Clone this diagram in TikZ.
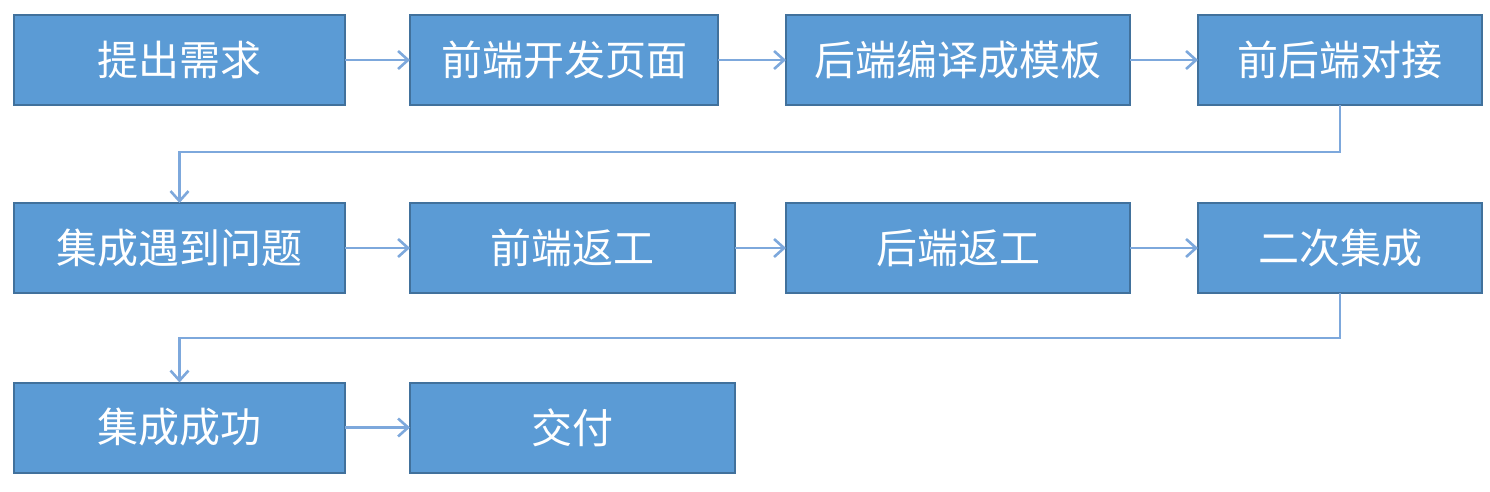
\documentclass[tikz,border=0pt]{standalone}
\usepackage{fontspec}
\usetikzlibrary{arrows.meta}
\newfontfamily\cjk{Noto Sans CJK SC}
\definecolor{boxfill}{RGB}{91,155,213}
\definecolor{boxline}{RGB}{65,113,156}
\definecolor{linkline}{RGB}{125,168,220}

\begin{document}
\begin{tikzpicture}[y=0.5pt, x=0.5pt, yscale=-1, inner sep=0pt, outer sep=0pt,
  stepbox/.style={draw=boxline, fill=boxfill, line width=1pt, text=white,
    font=\cjk\fontsize{20.5}{20.5}\selectfont, minimum height=45pt},
  link/.style={draw=linkline, line width=1.3pt, -{Straight Barb[length=5pt,width=9pt]}}]
\useasboundingbox (0,0) rectangle (1490,492);
% first row
\node[stepbox, minimum width=165.5pt] (n1) at (179.5,60) {提出需求};
\node[stepbox, minimum width=154pt] (n2) at (564,60) {前端开发页面};
\node[stepbox, minimum width=172pt] (n3) at (958,60) {后端编译成模板};
\node[stepbox, minimum width=142pt] (n4) at (1340,60) {前后端对接};
% second row
\node[stepbox, minimum width=165.5pt] (n5) at (179.5,248) {集成遇到问题};
\node[stepbox, minimum width=162.5pt] (n6) at (572.5,248) {前端返工};
\node[stepbox, minimum width=172pt] (n7) at (958,248) {后端返工};
\node[stepbox, minimum width=142pt] (n8) at (1340,248) {二次集成};
% third row
\node[stepbox, minimum width=165.5pt] (n9) at (179.5,427.5) {集成成功};
\node[stepbox, minimum width=162.5pt] (n10) at (572.5,427.5) {交付};
% connectors
\draw[link] (n1) -- (n2);
\draw[link] (n2) -- (n3);
\draw[link] (n3) -- (n4);
\draw[link] (n4.south) -- ++(0,47) -| (n5.north);
\draw[link] (n5) -- (n6);
\draw[link] (n6) -- (n7);
\draw[link] (n7) -- (n8);
\draw[link] (n8.south) -- ++(0,45) -| (n9.north);
\draw[link] (n9) -- (n10);
\end{tikzpicture}
\end{document}
